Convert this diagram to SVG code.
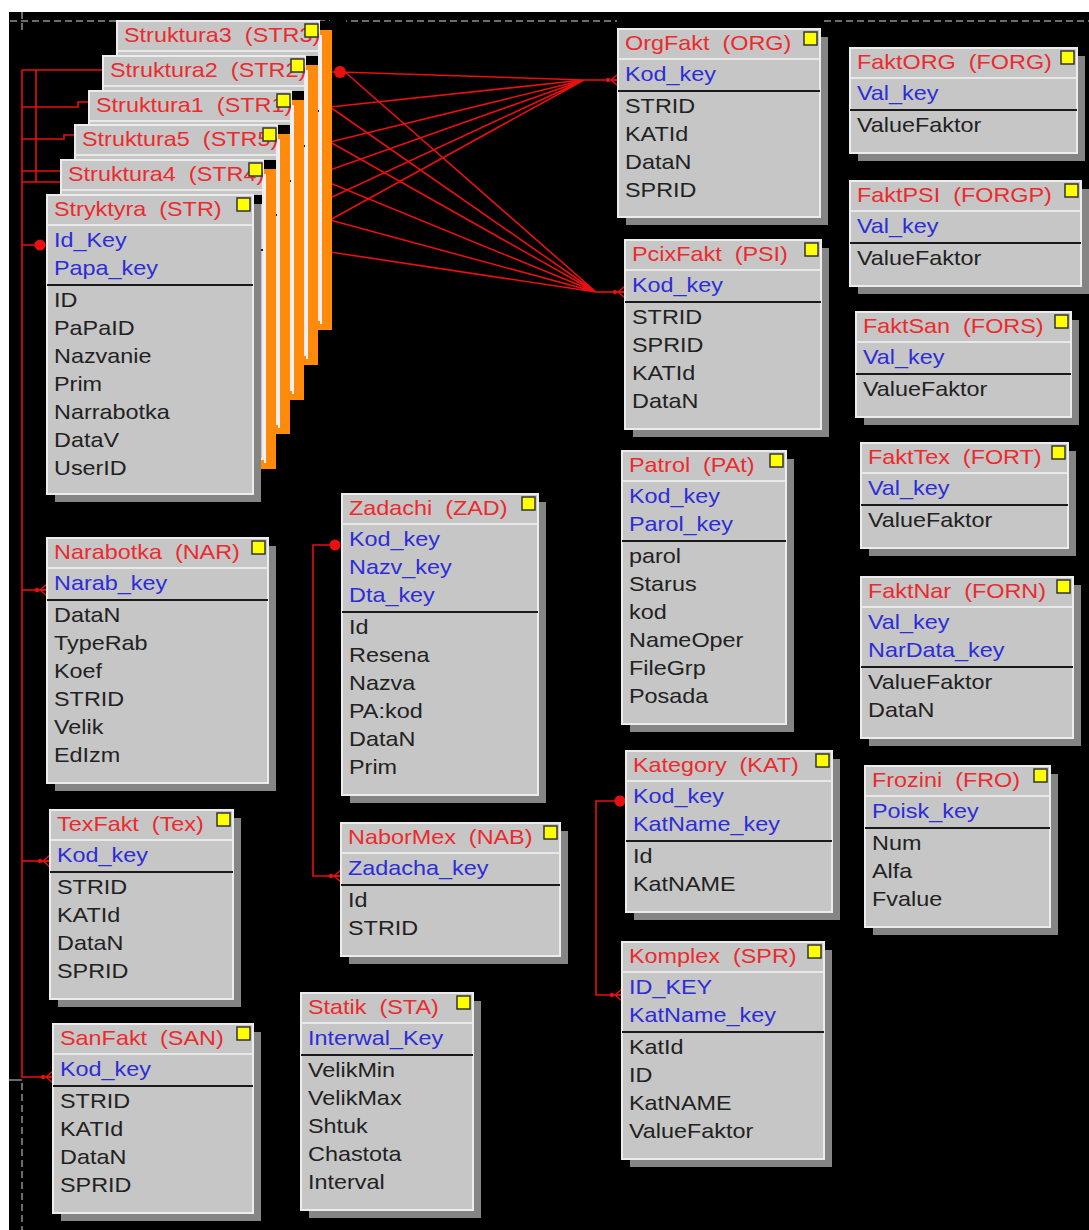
<svg xmlns="http://www.w3.org/2000/svg" width="1089" height="1230" viewBox="0 0 1089 1230">
<defs>
<style>
text{font-family:"Liberation Sans",Arial,sans-serif;font-size:20px;white-space:pre}
.ti{fill:#ec2a2e}.ky{fill:#2d2dd8}.at{fill:#222}
.bd{fill:#c6c6c6;stroke:#ececec;stroke-width:2}
.sh{fill:#858585}
.osh{fill:#ff8a0c}
.wl{stroke:#f2f2f2;stroke-width:2}
.nt{fill:#000}
.sep{stroke:#e8e8e8;stroke-width:2}
.dv{stroke:#1a1a1a;stroke-width:2}
.yl{fill:#ffff00;stroke:#333;stroke-width:1.5}
.cn{fill:none;stroke:#e81010;stroke-width:1.6}
.ft{marker-end:url(#many)}
.one{fill:#e81010}
.grid{fill:none;stroke:#8e8e8e;stroke-width:1.5;stroke-dasharray:7 4}
</style>
<marker id="many" viewBox="-14 -8 16 16" refX="0" refY="0" markerWidth="16" markerHeight="16" markerUnits="userSpaceOnUse" orient="auto">
<circle cx="-10" cy="0" r="2.2" fill="#e81010"/>
<path d="M-7,0 L0,-6 M-7,0 L0,0 M-7,0 L0,6" fill="none" stroke="#e81010" stroke-width="1.4"/>
</marker>
</defs>

<!-- canvas -->
<rect width="1089" height="1230" fill="#fff"/>
<rect x="9" y="12" width="1080" height="1218" fill="#000"/>
<path class="grid" d="M10,21 H1089 M22,12 V32 M22,1083 V1230"/>
<path d="M9,1080 H22" stroke="#8e8e8e" stroke-width="1.5"/>
<rect x="330" y="12" width="16" height="14" fill="#000"/>
<rect x="617" y="12" width="205" height="17" fill="#000"/>

<!-- relationships -->
<g id="connectors">
<path class="cn" d="M22,70 V1077 H53" style="marker-end:url(#many)"/>
<path class="cn" d="M22,70 H103 M36,70 V182 M22,107 H78 V102 H89 M22,139 H64 V135 H75 M22,171 H61 M22,182 H61 M22,245 H47"/>
<path class="cn ft" d="M22,590 H47"/>
<path class="cn ft" d="M22,861 H50"/>
<circle class="one" cx="40" cy="245" r="5.5"/>

<path class="cn" d="M330,72 H340 L584,80 M330,107 L584,80 M330,142 L584,80 M330,170 L584,80 M330,198 L584,80 M330,220 L584,80"/>
<path class="cn ft" d="M584,80 H618"/>
<path class="cn" d="M345,72 L596,292 M330,107 L596,292 M330,142 L596,292 M330,183 L596,292 M330,220 L596,292 M330,252 L596,292"/>
<path class="cn ft" d="M596,292 H625"/>
<circle class="one" cx="340" cy="72" r="6"/>

<path class="cn ft" d="M335,545 H313 V876 H341"/>
<circle class="one" cx="335" cy="545" r="5.5"/>
<path class="cn ft" d="M620,801 H596 V995 H622"/>
<circle class="one" cx="620" cy="801" r="5.5"/>
</g>

<!-- stacked structure tables, back to front -->
<g id="tbl-str3" transform="translate(117 21)">
<rect class="osh" x="8" y="9" width="207" height="300"/>
<rect class="bd" width="202" height="299"/>
<line class="wl" x1="204" y1="14" x2="204" y2="303"/>
<rect class="nt" x="203" y="0" width="12" height="9"/>
<line class="sep" x1="1" y1="30" x2="201" y2="30"/>
<line class="dv" x1="0" y1="90" x2="202" y2="90"/>
<text class="ti" transform="scale(1.17 1)" x="6" y="21">Struktura3  (STR3)</text>
<rect class="yl" x="188" y="3" width="13" height="13"/>
</g>
<g id="tbl-str2" transform="translate(103 56)">
<rect class="osh" x="8" y="9" width="207" height="300"/>
<rect class="bd" width="202" height="299"/>
<line class="wl" x1="204" y1="14" x2="204" y2="303"/>
<rect class="nt" x="203" y="0" width="12" height="9"/>
<line class="sep" x1="1" y1="30" x2="201" y2="30"/>
<line class="dv" x1="0" y1="90" x2="202" y2="90"/>
<text class="ti" transform="scale(1.17 1)" x="6" y="21">Struktura2  (STR2)</text>
<rect class="yl" x="188" y="3" width="13" height="13"/>
</g>
<g id="tbl-str1" transform="translate(89 91)">
<rect class="osh" x="8" y="9" width="207" height="300"/>
<rect class="bd" width="202" height="299"/>
<line class="wl" x1="204" y1="14" x2="204" y2="303"/>
<rect class="nt" x="203" y="0" width="12" height="9"/>
<line class="sep" x1="1" y1="30" x2="201" y2="30"/>
<line class="dv" x1="0" y1="90" x2="202" y2="90"/>
<text class="ti" transform="scale(1.17 1)" x="6" y="21">Struktura1  (STR1)</text>
<rect class="yl" x="188" y="3" width="13" height="13"/>
</g>
<g id="tbl-str5" transform="translate(75 125)">
<rect class="osh" x="8" y="9" width="207" height="300"/>
<rect class="bd" width="202" height="299"/>
<line class="wl" x1="204" y1="14" x2="204" y2="303"/>
<rect class="nt" x="203" y="0" width="12" height="9"/>
<line class="sep" x1="1" y1="30" x2="201" y2="30"/>
<line class="dv" x1="0" y1="90" x2="202" y2="90"/>
<text class="ti" transform="scale(1.17 1)" x="6" y="21">Struktura5  (STR5)</text>
<rect class="yl" x="188" y="3" width="13" height="13"/>
</g>
<g id="tbl-str4" transform="translate(61 160)">
<rect class="osh" x="8" y="9" width="207" height="300"/>
<rect class="bd" width="202" height="299"/>
<line class="wl" x1="204" y1="14" x2="204" y2="303"/>
<rect class="nt" x="203" y="0" width="12" height="9"/>
<line class="sep" x1="1" y1="30" x2="201" y2="30"/>
<line class="dv" x1="0" y1="90" x2="202" y2="90"/>
<text class="ti" transform="scale(1.17 1)" x="6" y="21">Struktura4  (STR4)</text>
<rect class="yl" x="188" y="3" width="13" height="13"/>
</g>
<g id="tbl-str" transform="translate(47 195)">
<rect class="sh" x="8" y="8" width="206" height="299"/>
<rect class="nt" x="206" y="0" width="9" height="9"/>
<rect class="bd" width="206" height="299"/>
<line class="sep" x1="1" y1="30" x2="205" y2="30"/>
<line class="dv" x1="0" y1="90" x2="206" y2="90"/>
<rect class="yl" x="190" y="3" width="13" height="13"/>
<g transform="scale(1.17 1)">
<text class="ti" x="6" y="21">Stryktyra  (STR)</text>
<text class="ky" x="6" y="52">Id_Key</text>
<text class="ky" x="6" y="80">Papa_key</text>
<text class="at" x="6" y="112">ID</text>
<text class="at" x="6" y="140">PaPaID</text>
<text class="at" x="6" y="168">Nazvanie</text>
<text class="at" x="6" y="196">Prim</text>
<text class="at" x="6" y="224">Narrabotka</text>
<text class="at" x="6" y="252">DataV</text>
<text class="at" x="6" y="280">UserID</text>
</g>
</g>

<!-- fact tables -->
<g id="tbl-org" transform="translate(618 29)">
<rect class="sh" x="8" y="8" width="202" height="188"/>
<rect class="bd" width="202" height="188"/>
<line class="sep" x1="1" y1="30" x2="201" y2="30"/>
<line class="dv" x1="0" y1="62" x2="202" y2="62"/>
<rect class="yl" x="186" y="3" width="13" height="13"/>
<g transform="scale(1.17 1)">
<text class="ti" x="6" y="21">OrgFakt  (ORG)</text>
<text class="ky" x="6" y="52">Kod_key</text>
<text class="at" x="6" y="84">STRID</text>
<text class="at" x="6" y="112">KATId</text>
<text class="at" x="6" y="140">DataN</text>
<text class="at" x="6" y="168">SPRID</text>
</g>
</g>
<g id="tbl-psi" transform="translate(625 240)">
<rect class="sh" x="8" y="8" width="196" height="189"/>
<rect class="bd" width="196" height="189"/>
<line class="sep" x1="1" y1="30" x2="195" y2="30"/>
<line class="dv" x1="0" y1="62" x2="196" y2="62"/>
<rect class="yl" x="180" y="3" width="13" height="13"/>
<g transform="scale(1.17 1)">
<text class="ti" x="6" y="21">PcixFakt  (PSI)</text>
<text class="ky" x="6" y="52">Kod_key</text>
<text class="at" x="6" y="84">STRID</text>
<text class="at" x="6" y="112">SPRID</text>
<text class="at" x="6" y="140">KATId</text>
<text class="at" x="6" y="168">DataN</text>
</g>
</g>
<g id="tbl-forg" transform="translate(850 48)">
<rect class="sh" x="8" y="8" width="227" height="105"/>
<rect class="bd" width="227" height="105"/>
<line class="sep" x1="1" y1="30" x2="226" y2="30"/>
<line class="dv" x1="0" y1="62" x2="227" y2="62"/>
<rect class="yl" x="211" y="3" width="13" height="13"/>
<g transform="scale(1.17 1)">
<text class="ti" x="6" y="21">FaktORG  (FORG)</text>
<text class="ky" x="6" y="52">Val_key</text>
<text class="at" x="6" y="84">ValueFaktor</text>
</g>
</g>
<g id="tbl-forgp" transform="translate(850 181)">
<rect class="sh" x="8" y="8" width="231" height="105"/>
<rect class="bd" width="231" height="105"/>
<line class="sep" x1="1" y1="30" x2="230" y2="30"/>
<line class="dv" x1="0" y1="62" x2="231" y2="62"/>
<rect class="yl" x="215" y="3" width="13" height="13"/>
<g transform="scale(1.17 1)">
<text class="ti" x="6" y="21">FaktPSI  (FORGP)</text>
<text class="ky" x="6" y="52">Val_key</text>
<text class="at" x="6" y="84">ValueFaktor</text>
</g>
</g>
<g id="tbl-fors" transform="translate(856 312)">
<rect class="sh" x="8" y="8" width="215" height="105"/>
<rect class="bd" width="215" height="105"/>
<line class="sep" x1="1" y1="30" x2="214" y2="30"/>
<line class="dv" x1="0" y1="62" x2="215" y2="62"/>
<rect class="yl" x="199" y="3" width="13" height="13"/>
<g transform="scale(1.17 1)">
<text class="ti" x="6" y="21">FaktSan  (FORS)</text>
<text class="ky" x="6" y="52">Val_key</text>
<text class="at" x="6" y="84">ValueFaktor</text>
</g>
</g>
<g id="tbl-fort" transform="translate(861 443)">
<rect class="sh" x="8" y="8" width="207" height="105"/>
<rect class="bd" width="207" height="105"/>
<line class="sep" x1="1" y1="30" x2="206" y2="30"/>
<line class="dv" x1="0" y1="62" x2="207" y2="62"/>
<rect class="yl" x="191" y="3" width="13" height="13"/>
<g transform="scale(1.17 1)">
<text class="ti" x="6" y="21">FaktTex  (FORT)</text>
<text class="ky" x="6" y="52">Val_key</text>
<text class="at" x="6" y="84">ValueFaktor</text>
</g>
</g>
<g id="tbl-forn" transform="translate(861 577)">
<rect class="sh" x="8" y="8" width="212" height="161"/>
<rect class="bd" width="212" height="161"/>
<line class="sep" x1="1" y1="30" x2="211" y2="30"/>
<line class="dv" x1="0" y1="90" x2="212" y2="90"/>
<rect class="yl" x="196" y="3" width="13" height="13"/>
<g transform="scale(1.17 1)">
<text class="ti" x="6" y="21">FaktNar  (FORN)</text>
<text class="ky" x="6" y="52">Val_key</text>
<text class="ky" x="6" y="80">NarData_key</text>
<text class="at" x="6" y="112">ValueFaktor</text>
<text class="at" x="6" y="140">DataN</text>
</g>
</g>
<g id="tbl-pat" transform="translate(622 451)">
<rect class="sh" x="8" y="8" width="164" height="273"/>
<rect class="bd" width="164" height="273"/>
<line class="sep" x1="1" y1="30" x2="163" y2="30"/>
<line class="dv" x1="0" y1="90" x2="164" y2="90"/>
<rect class="yl" x="148" y="3" width="13" height="13"/>
<g transform="scale(1.17 1)">
<text class="ti" x="6" y="21">Patrol  (PAt)</text>
<text class="ky" x="6" y="52">Kod_key</text>
<text class="ky" x="6" y="80">Parol_key</text>
<text class="at" x="6" y="112">parol</text>
<text class="at" x="6" y="140">Starus</text>
<text class="at" x="6" y="168">kod</text>
<text class="at" x="6" y="196">NameOper</text>
<text class="at" x="6" y="224">FileGrp</text>
<text class="at" x="6" y="252">Posada</text>
</g>
</g>
<g id="tbl-kat" transform="translate(626 751)">
<rect class="sh" x="8" y="8" width="206" height="161"/>
<rect class="bd" width="206" height="161"/>
<line class="sep" x1="1" y1="30" x2="205" y2="30"/>
<line class="dv" x1="0" y1="90" x2="206" y2="90"/>
<rect class="yl" x="190" y="3" width="13" height="13"/>
<g transform="scale(1.17 1)">
<text class="ti" x="6" y="21">Kategory  (KAT)</text>
<text class="ky" x="6" y="52">Kod_key</text>
<text class="ky" x="6" y="80">KatName_key</text>
<text class="at" x="6" y="112">Id</text>
<text class="at" x="6" y="140">KatNAME</text>
</g>
</g>
<g id="tbl-fro" transform="translate(865 766)">
<rect class="sh" x="8" y="8" width="185" height="161"/>
<rect class="bd" width="185" height="161"/>
<line class="sep" x1="1" y1="30" x2="184" y2="30"/>
<line class="dv" x1="0" y1="62" x2="185" y2="62"/>
<rect class="yl" x="169" y="3" width="13" height="13"/>
<g transform="scale(1.17 1)">
<text class="ti" x="6" y="21">Frozini  (FRO)</text>
<text class="ky" x="6" y="52">Poisk_key</text>
<text class="at" x="6" y="84">Num</text>
<text class="at" x="6" y="112">Alfa</text>
<text class="at" x="6" y="140">Fvalue</text>
</g>
</g>
<g id="tbl-spr" transform="translate(622 942)">
<rect class="sh" x="8" y="8" width="202" height="217"/>
<rect class="bd" width="202" height="217"/>
<line class="sep" x1="1" y1="30" x2="201" y2="30"/>
<line class="dv" x1="0" y1="90" x2="202" y2="90"/>
<rect class="yl" x="186" y="3" width="13" height="13"/>
<g transform="scale(1.17 1)">
<text class="ti" x="6" y="21">Komplex  (SPR)</text>
<text class="ky" x="6" y="52">ID_KEY</text>
<text class="ky" x="6" y="80">KatName_key</text>
<text class="at" x="6" y="112">KatId</text>
<text class="at" x="6" y="140">ID</text>
<text class="at" x="6" y="168">KatNAME</text>
<text class="at" x="6" y="196">ValueFaktor</text>
</g>
</g>
<g id="tbl-nar" transform="translate(47 538)">
<rect class="sh" x="8" y="8" width="221" height="245"/>
<rect class="bd" width="221" height="245"/>
<line class="sep" x1="1" y1="30" x2="220" y2="30"/>
<line class="dv" x1="0" y1="62" x2="221" y2="62"/>
<rect class="yl" x="205" y="3" width="13" height="13"/>
<g transform="scale(1.17 1)">
<text class="ti" x="6" y="21">Narabotka  (NAR)</text>
<text class="ky" x="6" y="52">Narab_key</text>
<text class="at" x="6" y="84">DataN</text>
<text class="at" x="6" y="112">TypeRab</text>
<text class="at" x="6" y="140">Koef</text>
<text class="at" x="6" y="168">STRID</text>
<text class="at" x="6" y="196">Velik</text>
<text class="at" x="6" y="224">EdIzm</text>
</g>
</g>
<g id="tbl-tex" transform="translate(50 810)">
<rect class="sh" x="8" y="8" width="183" height="189"/>
<rect class="bd" width="183" height="189"/>
<line class="sep" x1="1" y1="30" x2="182" y2="30"/>
<line class="dv" x1="0" y1="62" x2="183" y2="62"/>
<rect class="yl" x="167" y="3" width="13" height="13"/>
<g transform="scale(1.17 1)">
<text class="ti" x="6" y="21">TexFakt  (Tex)</text>
<text class="ky" x="6" y="52">Kod_key</text>
<text class="at" x="6" y="84">STRID</text>
<text class="at" x="6" y="112">KATId</text>
<text class="at" x="6" y="140">DataN</text>
<text class="at" x="6" y="168">SPRID</text>
</g>
</g>
<g id="tbl-san" transform="translate(53 1024)">
<rect class="sh" x="8" y="8" width="200" height="189"/>
<rect class="bd" width="200" height="189"/>
<line class="sep" x1="1" y1="30" x2="199" y2="30"/>
<line class="dv" x1="0" y1="62" x2="200" y2="62"/>
<rect class="yl" x="184" y="3" width="13" height="13"/>
<g transform="scale(1.17 1)">
<text class="ti" x="6" y="21">SanFakt  (SAN)</text>
<text class="ky" x="6" y="52">Kod_key</text>
<text class="at" x="6" y="84">STRID</text>
<text class="at" x="6" y="112">KATId</text>
<text class="at" x="6" y="140">DataN</text>
<text class="at" x="6" y="168">SPRID</text>
</g>
</g>
<g id="tbl-zad" transform="translate(342 494)">
<rect class="sh" x="8" y="8" width="196" height="301"/>
<rect class="bd" width="196" height="301"/>
<line class="sep" x1="1" y1="30" x2="195" y2="30"/>
<line class="dv" x1="0" y1="118" x2="196" y2="118"/>
<rect class="yl" x="180" y="3" width="13" height="13"/>
<g transform="scale(1.17 1)">
<text class="ti" x="6" y="21">Zadachi  (ZAD)</text>
<text class="ky" x="6" y="52">Kod_key</text>
<text class="ky" x="6" y="80">Nazv_key</text>
<text class="ky" x="6" y="108">Dta_key</text>
<text class="at" x="6" y="140">Id</text>
<text class="at" x="6" y="168">Resena</text>
<text class="at" x="6" y="196">Nazva</text>
<text class="at" x="6" y="224">PA:kod</text>
<text class="at" x="6" y="252">DataN</text>
<text class="at" x="6" y="280">Prim</text>
</g>
</g>
<g id="tbl-nab" transform="translate(341 823)">
<rect class="sh" x="8" y="8" width="219" height="133"/>
<rect class="bd" width="219" height="133"/>
<line class="sep" x1="1" y1="30" x2="218" y2="30"/>
<line class="dv" x1="0" y1="62" x2="219" y2="62"/>
<rect class="yl" x="203" y="3" width="13" height="13"/>
<g transform="scale(1.17 1)">
<text class="ti" x="6" y="21">NaborMex  (NAB)</text>
<text class="ky" x="6" y="52">Zadacha_key</text>
<text class="at" x="6" y="84">Id</text>
<text class="at" x="6" y="112">STRID</text>
</g>
</g>
<g id="tbl-sta" transform="translate(301 993)">
<rect class="sh" x="8" y="8" width="172" height="217"/>
<rect class="bd" width="172" height="217"/>
<line class="sep" x1="1" y1="30" x2="171" y2="30"/>
<line class="dv" x1="0" y1="62" x2="172" y2="62"/>
<rect class="yl" x="156" y="3" width="13" height="13"/>
<g transform="scale(1.17 1)">
<text class="ti" x="6" y="21">Statik  (STA)</text>
<text class="ky" x="6" y="52">Interwal_Key</text>
<text class="at" x="6" y="84">VelikMin</text>
<text class="at" x="6" y="112">VelikMax</text>
<text class="at" x="6" y="140">Shtuk</text>
<text class="at" x="6" y="168">Chastota</text>
<text class="at" x="6" y="196">Interval</text>
</g>
</g>
</svg>
